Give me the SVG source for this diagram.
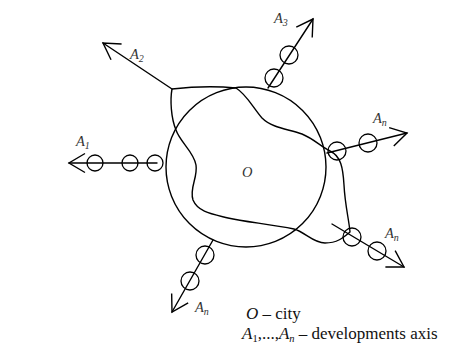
<svg xmlns="http://www.w3.org/2000/svg" width="473" height="346" viewBox="0 0 473 346">
<style>
.ln{fill:none;stroke:#000;stroke-width:1.4;stroke-linecap:round;stroke-linejoin:round}
.st{fill:none;stroke:#000;stroke-width:1.3}
.lab{font-family:"Liberation Serif",serif;font-style:italic;font-size:14.5px;fill:#333}
.sub{font-size:10px}
.leg{font-family:"Liberation Serif",serif;font-size:17px;fill:#111}
</style>
<defs>
<marker id="ah" viewBox="-18 -11 20 22" markerWidth="20" markerHeight="22" refX="0" refY="0" markerUnits="userSpaceOnUse" orient="auto">
<path d="M-16,-9.5 L0,0 L-16,9.5" fill="none" stroke="#000" stroke-width="1.4"/>
</marker>
</defs>
<rect width="473" height="346" fill="#fff"/>
<g id="city">
<circle class="ln" cx="246" cy="167" r="80"/>
<path class="ln" d="M172,89 C190,87 215,86 236,88 C246,94 252,106 262,118 C272,128 288,129 302,134 C314,139 320,146 330,151 C341,156 343,168 344,185 C345,205 349,220 350,232 C343,238 337,243 325,243 C313,243 305,232 294,229 C270,224 245,222 228,218 C212,214 198,212 193,200 C189,188 198,178 196,165 C194,152 180,142 176,130 C171,118 170,100 172,89 Z"/>
<text class="lab" x="242" y="177" font-size="16">O</text>
</g>
<g id="connectors">
<g id="axis-A1">
<line class="ln" x1="157" y1="163" x2="69" y2="163" marker-end="url(#ah)"/>
<circle class="st" cx="95" cy="163" r="8"/>
<circle class="st" cx="130" cy="163" r="8"/>
<circle class="st" cx="155" cy="163" r="8"/>
<text class="lab" x="76" y="146">A<tspan class="sub" dy="3">1</tspan></text>
</g>
<g id="axis-A2">
<line class="ln" x1="172" y1="89" x2="103" y2="43" marker-end="url(#ah)"/>
<text class="lab" x="130" y="59">A<tspan class="sub" dy="3">2</tspan></text>
</g>
<g id="axis-A3">
<line class="ln" x1="268" y1="88" x2="313" y2="19" marker-end="url(#ah)"/>
<circle class="st" cx="274" cy="78" r="9"/>
<circle class="st" cx="289" cy="55" r="9"/>
<text class="lab" x="274" y="23">A<tspan class="sub" dy="3">3</tspan></text>
</g>
<g id="axis-An-1">
<line class="ln" x1="327" y1="153" x2="407" y2="133" marker-end="url(#ah)"/>
<circle class="st" cx="337" cy="151" r="9"/>
<circle class="st" cx="368" cy="143" r="9"/>
<text class="lab" x="373" y="123">A<tspan class="sub" dy="3">n</tspan></text>
</g>
<g id="axis-An-2">
<line class="ln" x1="332" y1="224" x2="404" y2="267" marker-end="url(#ah)"/>
<circle class="st" cx="352" cy="237" r="9"/>
<circle class="st" cx="377" cy="251" r="9"/>
<text class="lab" x="385" y="238">A<tspan class="sub" dy="3">n</tspan></text>
</g>
<g id="axis-An-3">
<line class="ln" x1="213" y1="240" x2="172" y2="312" marker-end="url(#ah)"/>
<circle class="st" cx="205" cy="255" r="9"/>
<circle class="st" cx="190" cy="281" r="9"/>
<text class="lab" x="195" y="312">A<tspan class="sub" dy="3">n</tspan></text>
</g>
</g>
<g id="legend">
<text class="leg" x="246" y="319"><tspan font-style="italic">O</tspan> – city</text>
<text class="leg" x="242" y="339"><tspan font-style="italic">A</tspan><tspan font-size="10.5" dy="3">1</tspan><tspan dy="-3">,...,</tspan><tspan font-style="italic">A</tspan><tspan font-style="italic" font-size="10.5" dy="3">n</tspan><tspan dy="-3"> – developments axis</tspan></text>
</g>
</svg>
